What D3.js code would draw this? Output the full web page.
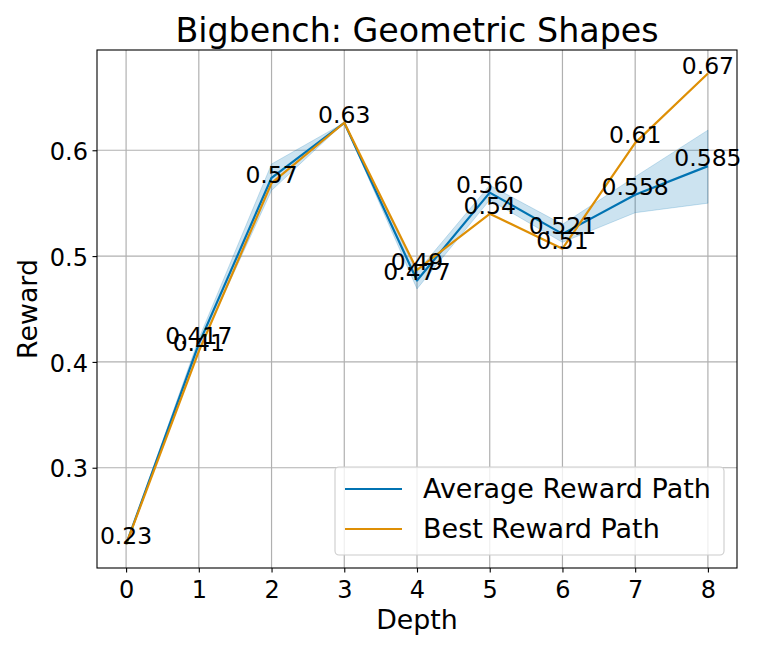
<!DOCTYPE html>
<html>
<head>
<meta charset="utf-8">
<script src="https://cdn.jsdelivr.net/npm/d3@7"></script>
<style>
  html, body { margin: 0; padding: 0; background: #ffffff; }
  svg { display: block; }
  text { font-family: "DejaVu Sans", sans-serif; fill: #000; }
</style>
</head>
<body>
<svg id="chart" width="761" height="653"></svg>
<script>
// ---- data ----
const depths = [0, 1, 2, 3, 4, 5, 6, 7, 8];
const avgReward = [0.2275, 0.417, 0.574, 0.626, 0.477, 0.560, 0.521, 0.558, 0.585];
const avgUpper  = [0.2275, 0.422, 0.587, 0.626, 0.485, 0.567, 0.530, 0.575, 0.619];
const avgLower  = [0.2275, 0.412, 0.562, 0.626, 0.469, 0.553, 0.513, 0.541, 0.550];
const bestReward = [0.2275, 0.41, 0.569, 0.626, 0.487, 0.540, 0.507, 0.607, 0.6725];
const avgLabels  = [null, "0.417", null, null, "0.477", "0.560", "0.521", "0.558", "0.585"];
const bestLabels = ["0.23", "0.41", "0.57", "0.63", "0.49", "0.54", "0.51", "0.61", "0.67"];
const xTicks = [0, 1, 2, 3, 4, 5, 6, 7, 8];
const yTicks = [0.3, 0.4, 0.5, 0.6];
const seriesNames = ["Average Reward Path", "Best Reward Path"];
const titleText = "Bigbench: Geometric Shapes";
const xLabel = "Depth";
const yLabel = "Reward";

// ---- layout ----
const L = 97, R = 737, T = 50, B = 568;
const blue = "#0173b2", orange = "#de8f05";
const svg = d3.select("#chart");

const allVals = avgReward.concat(avgUpper, avgLower, bestReward);
const ymin = d3.min(allVals), ymax = d3.max(allVals);
const ypad = (ymax - ymin) * 0.05;
const x = d3.scaleLinear().domain([-0.4, 8.4]).range([L, R]);
const y = d3.scaleLinear().domain([ymin - ypad, ymax + ypad]).range([B, T]);

// grid
const grid = svg.append("g");
grid.selectAll("line.gx").data(xTicks).join("line")
  .attr("x1", d => x(d)).attr("x2", d => x(d)).attr("y1", T).attr("y2", B)
  .attr("stroke", "#b0b0b0").attr("stroke-width", 1.2);
grid.selectAll("line.gy").data(yTicks).join("line")
  .attr("y1", d => y(d)).attr("y2", d => y(d)).attr("x1", L).attr("x2", R)
  .attr("stroke", "#b0b0b0").attr("stroke-width", 1.2);

// band
const area = d3.area().x((d, i) => x(depths[i])).y0((d, i) => y(avgLower[i])).y1((d, i) => y(avgUpper[i]));
svg.append("path").datum(depths).attr("d", area)
  .attr("fill", blue).attr("fill-opacity", 0.2)
  .attr("stroke", blue).attr("stroke-opacity", 0.2).attr("stroke-width", 1);

const line = vals => d3.line().x((d, i) => x(depths[i])).y((d, i) => y(vals[i]))(depths);
svg.append("path").attr("d", line(avgReward)).attr("fill", "none")
  .attr("stroke", blue).attr("stroke-width", 2.2).attr("stroke-linejoin", "round");
svg.append("path").attr("d", line(bestReward)).attr("fill", "none")
  .attr("stroke", orange).attr("stroke-width", 2.2).attr("stroke-linejoin", "round");

// annotations
const ann = svg.append("g").attr("font-size", 23.5).attr("text-anchor", "middle");
depths.forEach((d, i) => {
  if (avgLabels[i]) ann.append("text").attr("x", x(d)).attr("y", y(avgReward[i])).text(avgLabels[i]);
  if (bestLabels[i]) ann.append("text").attr("x", x(d)).attr("y", y(bestReward[i])).text(bestLabels[i]);
});

// axes
const xAxis = svg.append("g").attr("transform", `translate(0,${B})`)
  .call(d3.axisBottom(x).tickValues(xTicks).tickSize(4.5).tickPadding(8.5).tickFormat(d3.format("d")));
const yAxis = svg.append("g").attr("transform", `translate(${L},0)`)
  .call(d3.axisLeft(y).tickValues(yTicks).tickSize(4.5).tickPadding(4.5).tickFormat(d3.format(".1f")));
[xAxis, yAxis].forEach(a => {
  a.select(".domain").remove();
  a.selectAll(".tick line").attr("stroke", "#000").attr("stroke-width", 1.1);
  a.selectAll(".tick text").attr("font-size", 24).attr("font-family", "DejaVu Sans").attr("fill", "#000");
});
yAxis.selectAll(".tick text").attr("dy", "0.38em");

// frame
svg.append("rect").attr("x", L).attr("y", T).attr("width", R - L).attr("height", B - T)
  .attr("fill", "none").attr("stroke", "#000").attr("stroke-width", 1.1);

// title & labels
svg.append("text").attr("x", (L + R) / 2).attr("y", 41.5).attr("text-anchor", "middle")
  .attr("font-size", 33.3).text(titleText);
svg.append("text").attr("x", (L + R) / 2).attr("y", 629).attr("text-anchor", "middle")
  .attr("font-size", 26.8).text(xLabel);
svg.append("text").attr("transform", `translate(37,${(T + B) / 2}) rotate(-90)`)
  .attr("text-anchor", "middle").attr("font-size", 26.8).text(yLabel);

// legend
const lg = svg.append("g");
lg.append("rect").attr("x", 335).attr("y", 467).attr("width", 389).attr("height", 88)
  .attr("rx", 4).attr("fill", "#fff").attr("fill-opacity", 0.8)
  .attr("stroke", "#cccccc").attr("stroke-width", 1.1);
[blue, orange].forEach((c, i) => {
  const yy = 489 + i * 40;
  lg.append("line").attr("x1", 345).attr("x2", 402).attr("y1", yy).attr("y2", yy)
    .attr("stroke", c).attr("stroke-width", 2.2);
  lg.append("text").attr("x", 423).attr("y", 498 + i * 40).attr("font-size", 27).text(seriesNames[i]);
});
</script>
</body>
</html>
